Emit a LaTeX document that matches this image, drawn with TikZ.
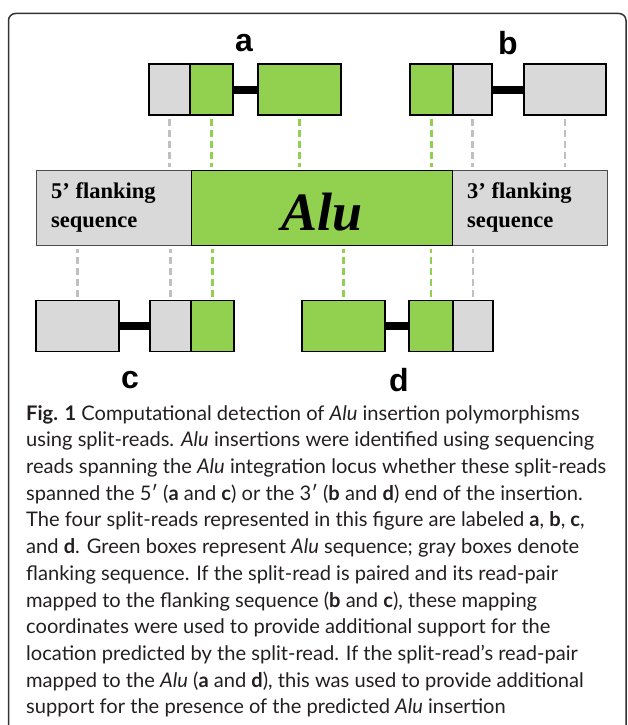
\documentclass[tikz,border=0pt]{standalone}
\usepackage{fontspec}
\setmainfont{Lato}
\newfontfamily\labelfont{Liberation Sans}
\newfontfamily\seqfont{Liberation Serif}
\usetikzlibrary{positioning}

\definecolor{alugreen}{HTML}{92D050}
\definecolor{flankgray}{HTML}{D9D9D9}
\definecolor{guidegray}{HTML}{C0C0C0}
\definecolor{captext}{HTML}{231F20}

\tikzset{
    seg/.style={draw=black, line width=1.5pt, minimum height=51pt, inner sep=0pt, outer sep=0pt},
    flank/.style={seg, fill=flankgray},
    alu/.style={seg, fill=alugreen},
    link/.style={line width=8pt},
    guide/.style={line width=2.5pt, dash pattern=on 7pt off 4pt, shorten <=4pt, shorten >=3pt},
    readlabel/.style={font=\labelfont\bfseries\fontsize{32}{32}\selectfont, inner sep=0pt},
    seqtext/.style={font=\seqfont\bfseries\fontsize{22.5}{29}\selectfont, align=left, inner sep=0pt},
}

\begin{document}
\begin{tikzpicture}[x=1pt, y=-1pt]
    \useasboundingbox (0,0) rectangle (627,725);
    \clip (0,0) rectangle (627,725);
    \draw[line width=1.5pt, draw=black!80, rounded corners=7pt] (8.5,13.5) rectangle (626,760);

    \node[readlabel] (la) at (244,43) {a};
    \node[readlabel] (lb) at (508,43) {b};
    \node[readlabel] (lc) at (130,380) {c};
    \node[readlabel] (ld) at (399,380) {d};

    \node[flank, minimum width=41pt, anchor=west] (a1) at (149,89.5) {};
    \node[alu, minimum width=43pt, right=0pt of a1] (a2) {};
    \node[alu, minimum width=83pt, right=25pt of a2] (a3) {};
    \draw[link] (a2.east) -- (a3.west);

    \node[alu, minimum width=43pt, anchor=west] (b1) at (410,89.5) {};
    \node[flank, minimum width=39pt, right=0pt of b1] (b2) {};
    \node[flank, minimum width=82pt, right=32pt of b2] (b3) {};
    \draw[link] (b2.east) -- (b3.west);

    \node[flank, minimum width=83pt, anchor=west] (c1) at (36,326) {};
    \node[flank, minimum width=41pt, right=31pt of c1] (c2) {};
    \node[alu, minimum width=43pt, right=0pt of c2] (c3) {};
    \draw[link] (c1.east) -- (c2.west);

    \node[alu, minimum width=83pt, anchor=west] (d1) at (302,326) {};
    \node[alu, minimum width=44pt, right=24pt of d1] (d2) {};
    \node[flank, minimum width=40pt, right=0pt of d2] (d3) {};
    \draw[link] (d1.east) -- (d2.west);

    \node[draw=black!70, line width=1pt, fill=flankgray, minimum width=571pt, minimum height=75pt, inner sep=0pt, anchor=north west] (locus) at (36,170) {};
    \node[draw=black, line width=0.8pt, fill=alugreen, minimum width=261pt, minimum height=75pt, inner sep=0pt, anchor=north west] (insert) at (191,170) {};
    \node[font=\seqfont\bfseries\itshape\fontsize{54}{54}\selectfont, inner sep=0pt] (alutext) at (322,212) {Alu};
    \node[seqtext, anchor=west] (five) at (51,207.5) {5’ flanking\\sequence};
    \node[seqtext, anchor=west] (three) at (467,207.5) {3’ flanking\\sequence};

    \foreach \r in {a1,b2,b3}
        \draw[guide, guidegray] (\r.south) -- (\r.south |- locus.north);
    \foreach \r in {a2,a3,b1}
        \draw[guide, alugreen] (\r.south) -- (\r.south |- locus.north);
    \foreach \r in {c1,c2,d3}
        \draw[guide, guidegray] (\r.north) -- (\r.north |- locus.south);
    \foreach \r in {c3,d1,d2}
        \draw[guide, alugreen] (\r.north) -- (\r.north |- locus.south);

    \node[anchor=north west, align=left, inner sep=0pt, text=captext, font=\fontsize{20.1}{26.7}\selectfont] (caption) at (26,405) {%
        \textbf{Fig. 1} Computational detection of \textit{Alu} insertion polymorphisms\\
        using split-reads. \textit{Alu} insertions were identified using sequencing\\
        reads spanning the \textit{Alu} integration locus whether these split-reads\\
        spanned the 5′ (\textbf{a} and \textbf{c}) or the 3′ (\textbf{b} and \textbf{d}) end of the insertion.\\
        The four split-reads represented in this figure are labeled \textbf{a}, \textbf{b}, \textbf{c},\\
        and \textbf{d}. Green boxes represent \textit{Alu} sequence; gray boxes denote\\
        flanking sequence. If the split-read is paired and its read-pair\\
        mapped to the flanking sequence (\textbf{b} and \textbf{c}), these mapping\\
        coordinates were used to provide additional support for the\\
        location predicted by the split-read. If the split-read’s read-pair\\
        mapped to the \textit{Alu} (\textbf{a} and \textbf{d}), this was used to provide additional\\
        support for the presence of the predicted \textit{Alu} insertion};
\end{tikzpicture}
\end{document}
